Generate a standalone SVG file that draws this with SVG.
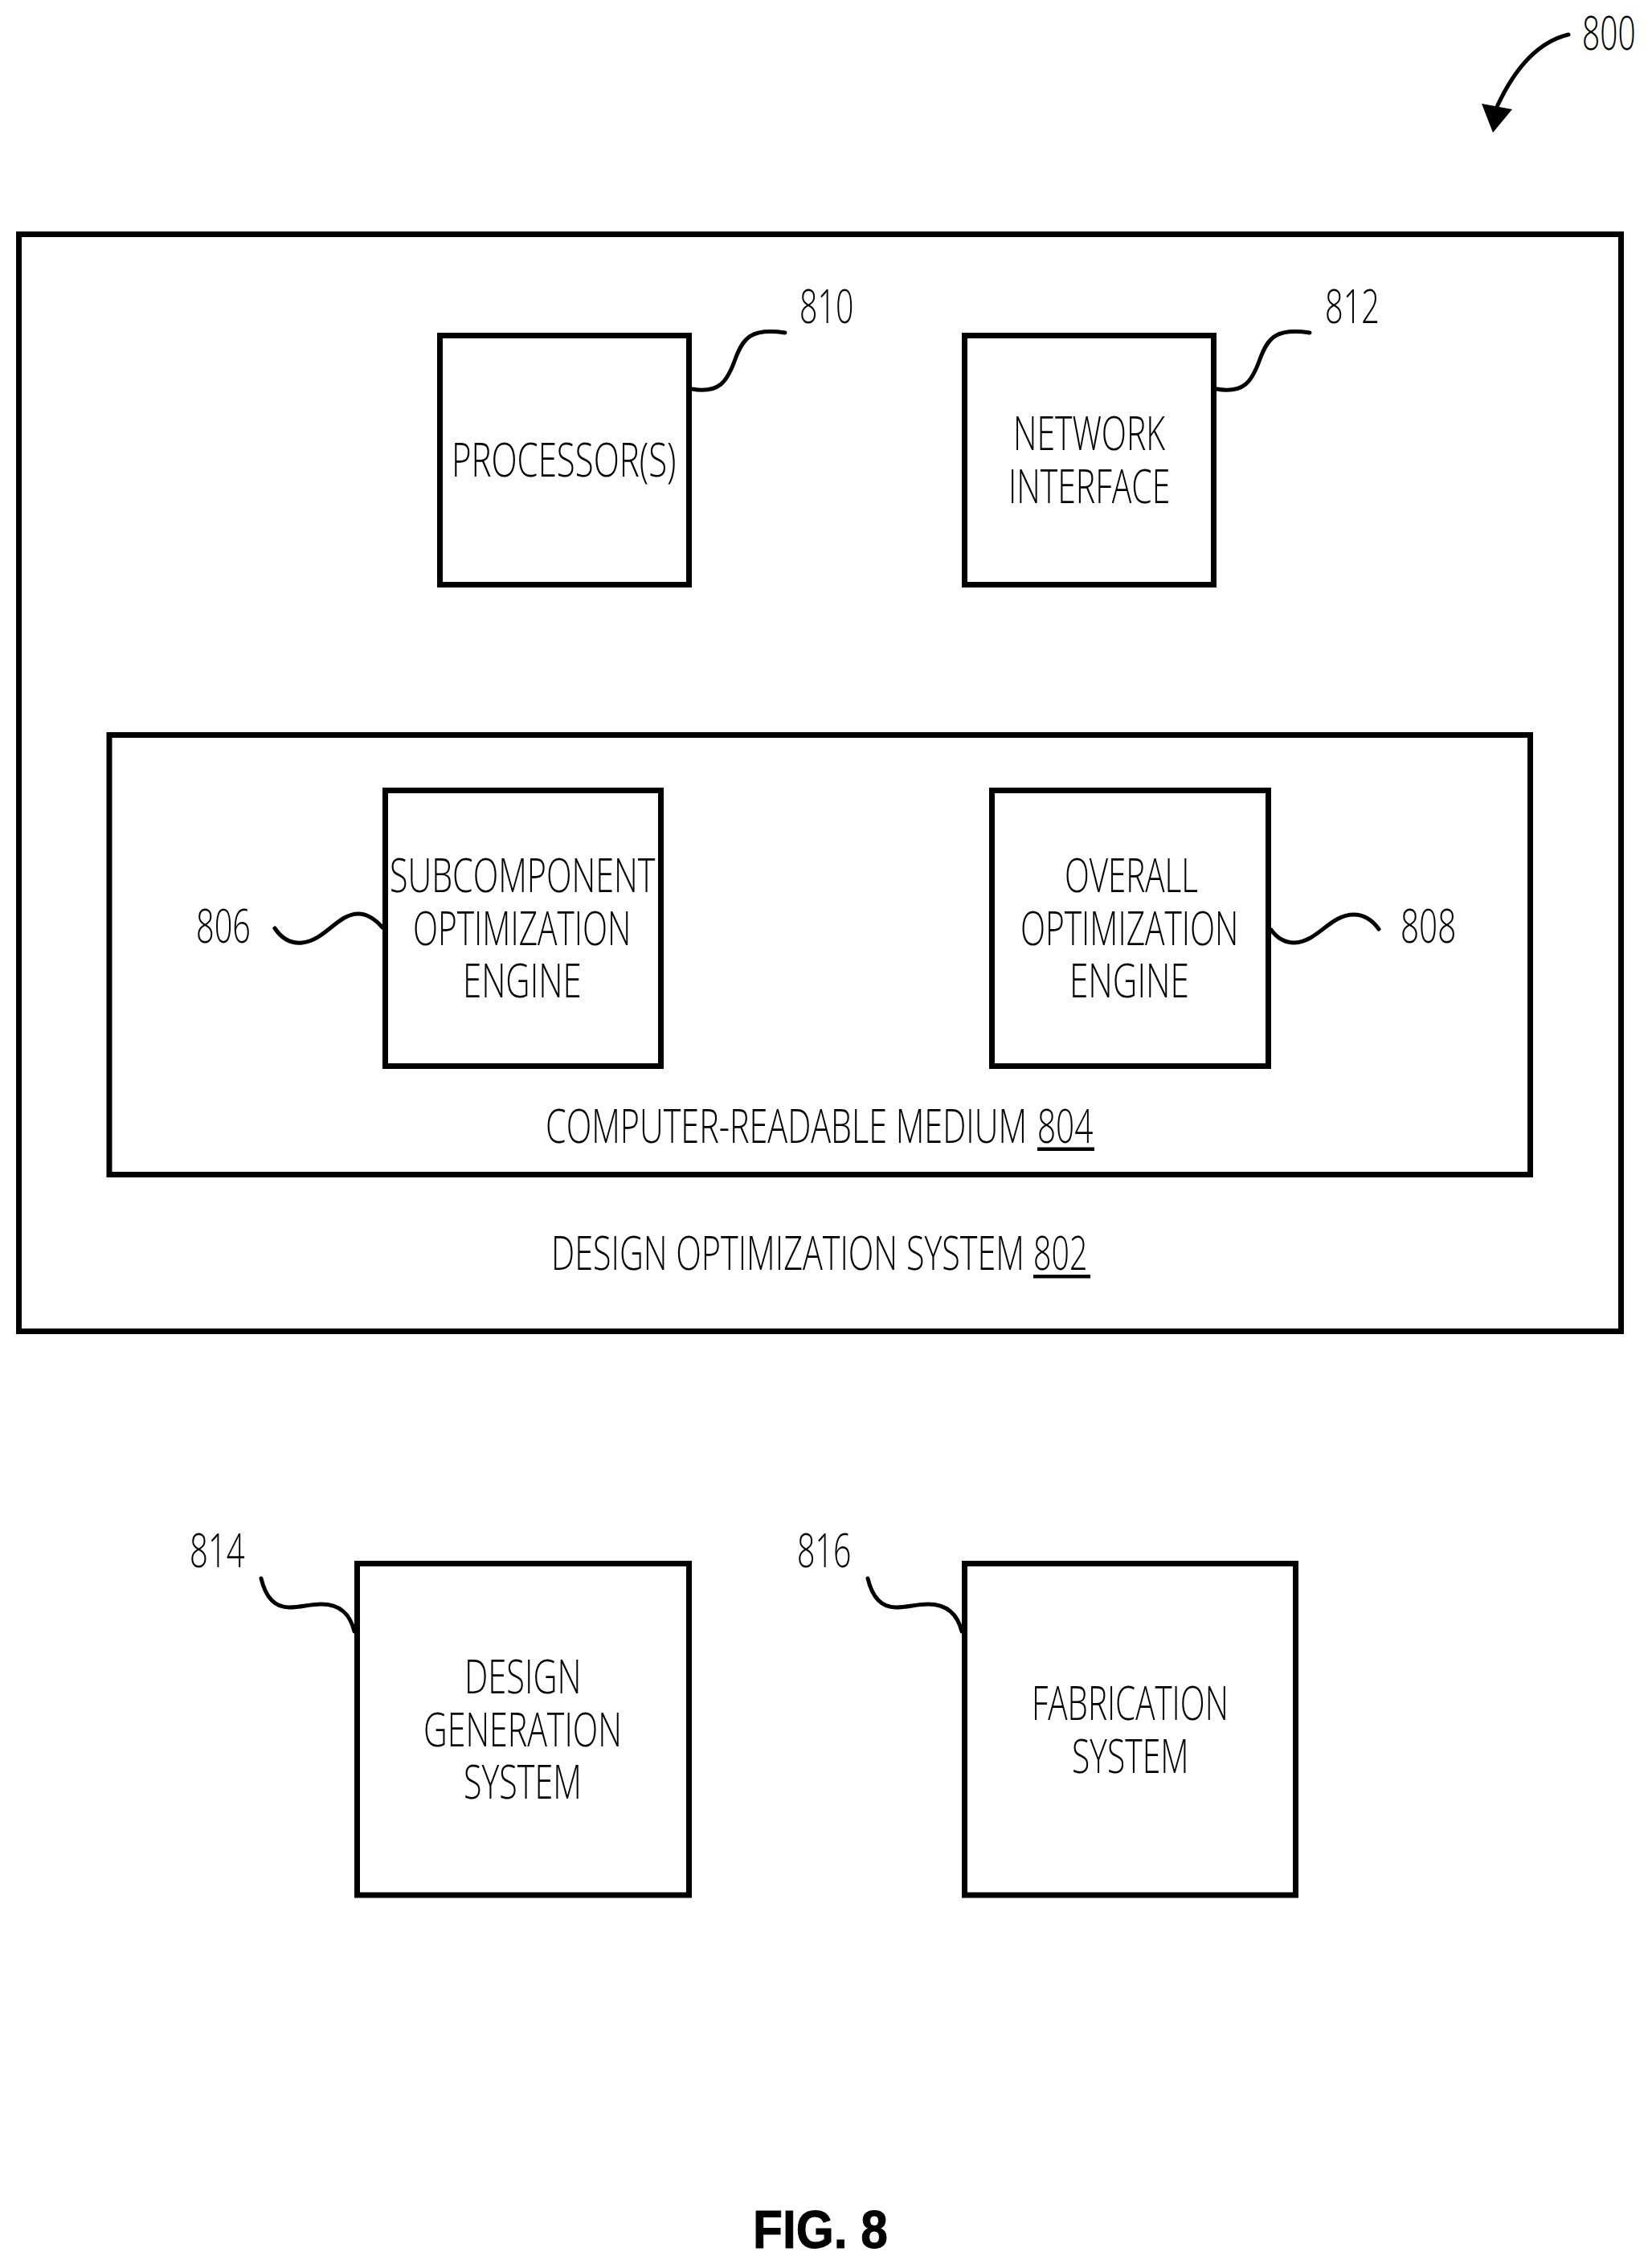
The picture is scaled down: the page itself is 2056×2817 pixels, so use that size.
<svg xmlns="http://www.w3.org/2000/svg" width="2056" height="2817" viewBox="0 0 2056 2817">
<style>
.box{fill:none;stroke:#000;stroke-width:7}
.lead{fill:none;stroke:#000;stroke-width:5;stroke-linecap:round}
.lbl{font-family:"Open Sans","Noto Sans",sans-serif;font-weight:300;font-size:59px;fill:#000}
.fig{font-family:"Liberation Sans",Arial,sans-serif;font-weight:700;font-size:66px;fill:#000;stroke:#000;stroke-width:1}
</style>
<rect width="2056" height="2817" fill="#fff"/>
<g id="connectors">
<path class="lead" d="M1952,43 C1915,52 1885,85 1863,133"/>
<polygon points="1844,129 1882,136 1858,165" fill="#000"/>
<path class="lead" d="M861,484 C895,490 905,475 915,447 C925,420 935,408 977,414"/>
<path class="lead" d="M1514,484 C1548,490 1558,475 1568,447 C1578,420 1588,408 1630,414"/>
<path class="lead" d="M342,1155 C352,1170 365,1174 376,1173 C405,1170 420,1137 446,1137 C458,1137 468,1145 476,1154"/>
<path class="lead" d="M1582,1157 C1590,1168 1600,1173 1611,1173 C1640,1172 1655,1138 1685,1138 C1698,1138 1708,1145 1716,1156"/>
<path class="lead" d="M325,1964 C330,1985 340,2000 360,2000 C375,2000 385,1996 400,1996 C425,1996 436,2010 441,2030"/>
<path class="lead" d="M1080,1964 C1085,1985 1095,2000 1115,2000 C1130,2000 1140,1996 1155,1996 C1180,1996 1192,2010 1197,2030"/>
</g>
<g id="n800"><text class="lbl" transform="translate(1969,62) scale(.68,1)" textLength="98" lengthAdjust="spacingAndGlyphs">800</text></g>
<g id="n802"><rect class="box" x="23.500" y="291.500" width="1994" height="1365"/>
<text class="lbl" transform="translate(686,1580) scale(.68,1)" textLength="866" lengthAdjust="spacingAndGlyphs">DESIGN OPTIMIZATION SYSTEM</text>
<text class="lbl" transform="translate(1286,1580) scale(.68,1)" textLength="99" lengthAdjust="spacingAndGlyphs">802</text>
<rect x="1286" y="1586" width="71" height="4.500"/></g>
<g id="n804"><rect class="box" x="136" y="914.500" width="1768.500" height="547"/>
<text class="lbl" transform="translate(679,1422) scale(.68,1)" textLength="881" lengthAdjust="spacingAndGlyphs">COMPUTER-READABLE MEDIUM</text>
<text class="lbl" transform="translate(1291,1422) scale(.68,1)" textLength="102" lengthAdjust="spacingAndGlyphs">804</text>
<rect x="1291" y="1427.500" width="71" height="4.500"/></g>
<g id="n810"><rect class="box" x="547.500" y="417.500" width="310" height="310"/>
<text class="lbl" transform="translate(562,593) scale(.68,1)" textLength="411" lengthAdjust="spacingAndGlyphs">PROCESSOR(S)</text>
<text class="lbl" transform="translate(995,402) scale(.68,1)" textLength="99" lengthAdjust="spacingAndGlyphs">810</text></g>
<g id="n812"><rect class="box" x="1200.500" y="417.500" width="310" height="310"/>
<text class="lbl" transform="translate(1261,560) scale(.68,1)" textLength="278" lengthAdjust="spacingAndGlyphs">NETWORK</text>
<text class="lbl" transform="translate(1255,626) scale(.68,1)" textLength="296" lengthAdjust="spacingAndGlyphs">INTERFACE</text>
<text class="lbl" transform="translate(1649,402) scale(.68,1)" textLength="100" lengthAdjust="spacingAndGlyphs">812</text></g>
<g id="n806"><rect class="box" x="479.500" y="983.500" width="343" height="343"/>
<text class="lbl" transform="translate(485,1110) scale(.68,1)" textLength="486" lengthAdjust="spacingAndGlyphs">SUBCOMPONENT</text>
<text class="lbl" transform="translate(514,1176) scale(.68,1)" textLength="399" lengthAdjust="spacingAndGlyphs">OPTIMIZATION</text>
<text class="lbl" transform="translate(576,1241) scale(.68,1)" textLength="217" lengthAdjust="spacingAndGlyphs">ENGINE</text>
<text class="lbl" transform="translate(244,1173) scale(.68,1)" textLength="100" lengthAdjust="spacingAndGlyphs">806</text></g>
<g id="n808"><rect class="box" x="1234.500" y="983.500" width="344" height="343"/>
<text class="lbl" transform="translate(1325,1110) scale(.68,1)" textLength="244" lengthAdjust="spacingAndGlyphs">OVERALL</text>
<text class="lbl" transform="translate(1270,1176) scale(.68,1)" textLength="399" lengthAdjust="spacingAndGlyphs">OPTIMIZATION</text>
<text class="lbl" transform="translate(1331,1241) scale(.68,1)" textLength="219" lengthAdjust="spacingAndGlyphs">ENGINE</text>
<text class="lbl" transform="translate(1743,1173) scale(.68,1)" textLength="102" lengthAdjust="spacingAndGlyphs">808</text></g>
<g id="n814"><rect class="box" x="444.500" y="1945.500" width="413" height="412.500"/>
<text class="lbl" transform="translate(578,2107) scale(.68,1)" textLength="214" lengthAdjust="spacingAndGlyphs">DESIGN</text>
<text class="lbl" transform="translate(527,2173) scale(.68,1)" textLength="363" lengthAdjust="spacingAndGlyphs">GENERATION</text>
<text class="lbl" transform="translate(577,2238) scale(.68,1)" textLength="216" lengthAdjust="spacingAndGlyphs">SYSTEM</text>
<text class="lbl" transform="translate(236,1950) scale(.68,1)" textLength="101" lengthAdjust="spacingAndGlyphs">814</text></g>
<g id="n816"><rect class="box" x="1200.500" y="1945.500" width="412" height="412.500"/>
<text class="lbl" transform="translate(1284,2140) scale(.68,1)" textLength="360" lengthAdjust="spacingAndGlyphs">FABRICATION</text>
<text class="lbl" transform="translate(1334,2206) scale(.68,1)" textLength="214" lengthAdjust="spacingAndGlyphs">SYSTEM</text>
<text class="lbl" transform="translate(992,1950) scale(.68,1)" textLength="99" lengthAdjust="spacingAndGlyphs">816</text></g>
<g id="fig"><text class="fig" x="937" y="2797" textLength="168" lengthAdjust="spacingAndGlyphs">FIG. 8</text></g>
</svg>
